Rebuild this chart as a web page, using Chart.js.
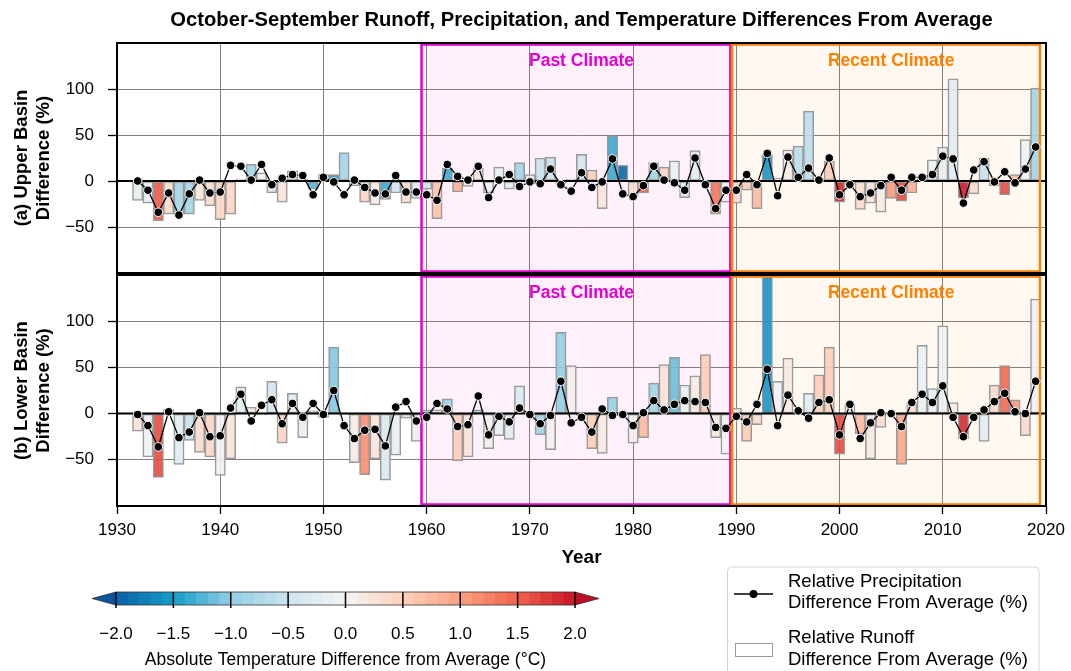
<!DOCTYPE html>
<html>
<head>
<meta charset="utf-8">
<script src="https://cdn.jsdelivr.net/npm/chart.js@4.4.1/dist/chart.umd.min.js"></script>
<style>
  html, body { margin: 0; padding: 0; background: #fff; }
  #wrap { position: relative; width: 1071px; height: 671px; overflow: hidden; }
  canvas { position: absolute; left: 0; }
</style>
</head>
<body>
<div id="wrap">
  <canvas id="upper" width="1071" height="276" style="top:0;width:1071px;height:276px"></canvas>
  <canvas id="lower" width="1071" height="302" style="top:268px;width:1071px;height:302px"></canvas>
  <canvas id="cbar" width="1071" height="111" style="top:560px;width:1071px;height:111px"></canvas>
</div>
<script>
// water years
const years = [
  1932, 1933, 1934, 1935, 1936, 1937, 1938, 1939, 1940, 1941,
  1942, 1943, 1944, 1945, 1946, 1947, 1948, 1949, 1950, 1951,
  1952, 1953, 1954, 1955, 1956, 1957, 1958, 1959, 1960, 1961,
  1962, 1963, 1964, 1965, 1966, 1967, 1968, 1969, 1970, 1971,
  1972, 1973, 1974, 1975, 1976, 1977, 1978, 1979, 1980, 1981,
  1982, 1983, 1984, 1985, 1986, 1987, 1988, 1989, 1990, 1991,
  1992, 1993, 1994, 1995, 1996, 1997, 1998, 1999, 2000, 2001,
  2002, 2003, 2004, 2005, 2006, 2007, 2008, 2009, 2010, 2011,
  2012, 2013, 2014, 2015, 2016, 2017, 2018, 2019
];

// (a) Upper Basin
const upperRunoff = [
  -21, -24, -43, -36, -36, -36, -21, -27, -42, -36,
  2, 18, 9, -13, -23, 11, 2, -9, 7, 7,
  31, -5, -23, -26, -20, -13, -24, -19, -9, -41,
  14, -12, -6, 14, -13, 15, -9, 20, 7, 25,
  26, -3, 2, 29, 12, -30, 49, 17, -16, -13,
  20, 15, 22, -18, 33, -2, -36, -23, -24, -10,
  -30, 29, 3, 34, 38, 76, 3, 22, -23, -3,
  -31, -24, -34, -19, -22, -13, 5, 23, 37, 111,
  -18, -14, 25, -5, -15, 7, 45, 101
];
const upperPrecip = [
  0, -10, -34, -13, -37, -14, 1, -13, -12, 17,
  16, 1, 18, -4, 3, 7, 6, -15, 4, -1,
  -15, 1, -7, -13, -14, 6, -12, -12, -15, -21,
  18, 5, 1, 16, -18, 1, 7, -6, -1, -3,
  13, -4, -11, 9, -7, -1, 24, -14, -17, -5,
  16, 1, -2, -10, 25, -4, -30, -10, -10, 7,
  -4, 30, -16, 26, 4, 14, 1, 25, -15, -4,
  -17, -13, -5, 4, -10, 4, 4, 7, 27, 24,
  -24, 12, 21, -1, 10, -2, 13, 37
];
const upperTemp = [
  -0.15, -0.2, 1.5, 0.35, -0.9, -0.9, 0.2, 0.3, 0.4, 0.4,
  0.05, -0.9, -0.05, -0.5, 0.25, -0.6, 0.05, -1.3, -0.6, -1.5,
  -0.9, -0.2, 0.4, 0.1, -1.4, -0.5, 0.3, -0.3, -0.5, 0.6,
  -1.4, 0.8, 0.2, 0.2, -0.1, -0.2, -0.3, -0.9, -0.05, -0.6,
  -0.6, 0.05, 0.1, -0.5, 0.5, 0.2, -1.4, -1.95, 0.3, 1.5,
  -0.9, 0.4, -0.2, -0.35, -0.3, 0.05, 1.3, -0.1, 0.3, 0.5,
  0.7, -1.6, -0.05, 0.1, -0.65, -0.65, 0.05, 0.5, 1.8, 0.2,
  0.3, 0.2, 0.15, 1.0, 1.6, 0.8, -0.05, -0.1, -0.2, -0.25,
  1.9, 0.3, -0.6, 0.4, 1.6, 0.7, -0.05, -0.85
];

// (b) Lower Basin
const lowerRunoff = [
  -19, -47, -69, 5, -55, -29, -42, -47, -67, -49,
  29, 7, -1, 35, -32, 22, -26, 3, -4, 72,
  -1, -53, -66, -49, -72, -45, -5, -30, 4, 4,
  16, -51, -47, 4, -38, -24, -28, 30, 0, -23,
  -39, 88, 52, -2, -38, -43, 18, 0, -32, -26,
  33, 53, 61, 31, 41, 64, -26, -44, 6, -30,
  -12, 160, 35, 60, 2, 22, 42, 72, -44, 10,
  -22, -49, -15, 0, -55, 12, 74, 27, 95, 12,
  -27, 0, -30, 31, 52, 15, -24, 124
];
const lowerPrecip = [
  -1, -13, -36, 2, -26, -20, 1, -25, -24, 6,
  21, -8, 9, 15, -11, 11, -4, 11, -1, 25,
  -13, -27, -18, -17, -35, 7, 13, -8, -4, 11,
  5, -14, -12, 19, -23, -3, -9, 6, -1, -11,
  -2, 35, -10, -4, -20, 5, -2, -1, -13, 1,
  14, 4, 10, 14, 13, 12, -15, -16, -3, -9,
  10, 48, -13, 20, 3, -5, 12, 15, -23, 10,
  -27, -10, 1, 0, -14, 12, 21, 12, 30, -4,
  -25, -4, 4, 13, 22, 2, 0, 35
];
const lowerTemp = [
  0.2, -0.05, 1.6, 0.2, -0.3, -0.6, 0.3, 0.45, -0.1, 0.2,
  -0.3, 0.1, -0.05, -0.5, 0.4, -0.3, -0.2, -0.05, -0.1, -1.1,
  0.05, 0.15, 1.1, 0.25, -0.4, -0.2, -0.4, -0.2, -0.9, 0.1,
  -0.9, 0.5, 0.2, -0.9, 0.05, -0.2, -0.25, -0.4, 0.05, -0.9,
  0.05, -1.0, 0.05, 0.05, 0.5, 0.1, -1.0, 0.05, 0.05, 0.7,
  -0.9, 0.2, -1.2, -0.2, 0.1, 0.5, 0.15, -0.05, 0.2, 0.5,
  0.3, -1.55, -0.05, 0.15, 0.05, -0.3, 0.5, 0.5, 1.6, -0.05,
  0.7, 0.15, 0.3, 0.05, 0.9, 0.35, -0.2, -0.15, -0.1, 0.1,
  1.8, 0.05, -0.3, 0.35, 1.4, 1.0, 0.3, -0.1
];

// tick labels
const xTicks = [1930, 1940, 1950, 1960, 1970, 1980, 1990, 2000, 2010, 2020];
const yGrid = [-100, -50, 0, 50, 100, 150];
const yLabels = [-50, 0, 50, 100];
const cbarTicks = [-2, -1.5, -1, -0.5, 0, 0.5, 1, 1.5, 2];

const FONT = '"Liberation Sans", Arial, sans-serif';
Chart.defaults.font.family = FONT;
Chart.defaults.color = '#000';

// colour scale for temperature difference (discrete 0.1 steps)
const cmapStops = [
  [-2.0, [8, 98, 168]],
  [-1.5, [22, 156, 200]],
  [-1.0, [143, 206, 228]],
  [-0.5, [206, 228, 238]],
  [0.0, [244, 244, 244]],
  [0.5, [253, 210, 188]],
  [1.0, [252, 160, 130]],
  [1.5, [241, 98, 76]],
  [2.0, [200, 20, 40]]
];
const underColor = 'rgb(6,86,158)';
const overColor = 'rgb(186,14,38)';

function rgbAt(v) {
  for (let i = 0; i < cmapStops.length - 1; i++) {
    const [v0, c0] = cmapStops[i];
    const [v1, c1] = cmapStops[i + 1];
    if (v <= v1) {
      const t = (v - v0) / (v1 - v0);
      return c0.map((c, k) => Math.round(c + (c1[k] - c) * t));
    }
  }
  return cmapStops[cmapStops.length - 1][1];
}
function tempColor(t, alpha) {
  const bin = Math.max(-20, Math.min(19, Math.floor(t * 10 + 1e-6)));
  const c = rgbAt((bin + 0.5) / 10);
  return `rgba(${c[0]},${c[1]},${c[2]},${alpha})`;
}

const fmt = v => (v < 0 ? '\u2212' + Math.abs(v) : String(v));

// no label overflow padding, the frame sizes are fixed
function noPad(s) {
  s.paddingTop = 0; s.paddingBottom = 0; s.paddingLeft = 0; s.paddingRight = 0;
}

const periods = [
  { name: 'Past Climate', start: 1959.5, end: 1989.42, labelX: 1975, edge: '#e400d0', fill: 'rgba(228,0,208,0.055)' },
  { name: 'Recent Climate', start: 1989.58, end: 2019.42, labelX: 2005, edge: '#ff8000', fill: 'rgba(255,128,0,0.055)' }
];

// shading, frames, zero line and labels for both panels
const panelDecor = {
  id: 'panelDecor',
  beforeDatasetsDraw(chart) {
    const { ctx, chartArea: a, scales: { x } } = chart;
    ctx.save();
    periods.forEach(p => {
      const x1 = x.getPixelForValue(p.start), x2 = x.getPixelForValue(p.end);
      ctx.fillStyle = p.fill;
      ctx.fillRect(x1, a.top, x2 - x1, a.bottom - a.top);
    });
    ctx.restore();
  },
  afterDatasetDraw(chart, args) {
    if (args.meta.type !== 'bar') return;
    const { ctx, chartArea: a, scales: { x, y } } = chart;
    ctx.save();
    // zero line
    const y0 = y.getPixelForValue(0);
    ctx.strokeStyle = '#000';
    ctx.lineWidth = 2;
    ctx.beginPath();
    ctx.moveTo(a.left, y0);
    ctx.lineTo(a.right, y0);
    ctx.stroke();
    // period boxes
    ctx.lineWidth = 2.5;
    periods.forEach(p => {
      const x1 = x.getPixelForValue(p.start), x2 = x.getPixelForValue(p.end);
      ctx.strokeStyle = p.edge;
      ctx.strokeRect(x1, a.top + 1.5, x2 - x1, a.bottom - a.top - 3);
    });
    ctx.restore();
  },
  afterDraw(chart, args, opts) {
    const { ctx, chartArea: a, scales: { x, y } } = chart;
    ctx.save();
    ctx.strokeStyle = '#000';
    ctx.lineWidth = 2;
    ctx.strokeRect(a.left, a.top, a.right - a.left, a.bottom - a.top);
    ctx.font = 'bold 17.5px ' + FONT;
    ctx.textAlign = 'center';
    ctx.textBaseline = 'middle';
    periods.forEach(p => {
      ctx.fillStyle = p.edge;
      ctx.fillText(p.name, x.getPixelForValue(p.labelX), y.getPixelForValue(130));
    });
    if (opts.title) {
      ctx.fillStyle = '#000';
      ctx.font = 'bold 20.2px ' + FONT;
      ctx.fillText(opts.title, (a.left + a.right) / 2, 20);
    }
    ctx.restore();
  }
};

function makePanel(id, runoff, precip, temp, cfg) {
  return new Chart(document.getElementById(id), {
    type: 'bar',
    data: {
      datasets: [
        {
          type: 'bar',
          data: years.map((yr, i) => ({ x: yr, y: runoff[i] })),
          backgroundColor: temp.map(t => tempColor(t, 0.9)),
          borderColor: '#9a9a9a',
          borderWidth: 1.5,
          borderSkipped: false,
          barPercentage: 1,
          categoryPercentage: 1,
          order: 2
        },
        {
          type: 'line',
          data: years.map((yr, i) => ({ x: yr, y: precip[i] })),
          borderColor: '#000',
          borderWidth: 1.3,
          pointRadius: 4.3,
          pointBackgroundColor: '#000',
          pointBorderColor: '#fff',
          pointBorderWidth: 1,
          tension: 0,
          order: 1
        }
      ]
    },
    options: {
      responsive: false,
      animation: false,
      devicePixelRatio: 1,
      layout: { padding: cfg.padding, autoPadding: false },
      plugins: {
        legend: { display: false },
        tooltip: { enabled: false },
        panelDecor: { title: cfg.title }
      },
      scales: {
        x: {
          type: 'linear',
          min: 1930,
          max: 2020,
          offset: false,
          afterBuildTicks: s => { s.ticks = xTicks.map(v => ({ value: v })); },
          afterFit: s => { s.height = cfg.xHeight; noPad(s); },
          grid: { offset: false, color: '#808080', lineWidth: 1, drawTicks: cfg.showX, tickLength: 8, tickColor: '#000', tickWidth: 1.3 },
          border: { display: false },
          ticks: { display: cfg.showX, color: '#000', font: { size: 17 }, padding: 6, maxRotation: 0, autoSkip: false, callback: v => String(v) },
          title: { display: cfg.showX, text: 'Year', color: '#000', font: { size: 19, weight: 'bold' }, padding: { top: 0, bottom: 1 } }
        },
        y: {
          min: -100,
          max: 150,
          afterBuildTicks: s => { s.ticks = yGrid.map(v => ({ value: v })); },
          afterFit: s => { s.width = 117; noPad(s); },
          grid: {
            color: '#808080',
            lineWidth: 1,
            tickLength: 9,
            tickWidth: 1.3,
            tickColor: c => (c.tick && yLabels.includes(c.tick.value)) ? '#000' : 'rgba(0,0,0,0)'
          },
          border: { display: false },
          ticks: { color: '#000', font: { size: 17 }, padding: 14, callback: v => (yLabels.includes(v) ? fmt(v) : '') },
          title: { display: true, text: cfg.yTitle, color: '#000', font: { size: 18.5, weight: 'bold' }, padding: { top: 10.5, bottom: 0 } }
        }
      }
    },
    plugins: [panelDecor]
  });
}

makePanel('upper', upperRunoff, upperPrecip, upperTemp, {
  padding: { top: 43, right: 25, bottom: 3, left: 0 },
  xHeight: 0,
  showX: false,
  yTitle: ['(a) Upper Basin', 'Difference (%)'],
  title: 'October-September Runoff, Precipitation, and Temperature Differences From Average'
});

makePanel('lower', lowerRunoff, lowerPrecip, lowerTemp, {
  padding: { top: 7, right: 25, bottom: 0, left: 0 },
  xHeight: 64,
  showX: true,
  yTitle: ['(b) Lower Basin', 'Difference (%)'],
  title: null
});

// colour bar + legend
const cbarDecor = {
  id: 'cbarDecor',
  afterDraw(chart) {
    const { ctx, chartArea: a, scales: { x } } = chart;
    const mid = (a.top + a.bottom) / 2;
    const arrow = 24;
    ctx.save();
    for (let b = -20; b < 20; b++) {
      const x1 = x.getPixelForValue(b / 10), x2 = x.getPixelForValue((b + 1) / 10);
      ctx.fillStyle = tempColor((b + 0.5) / 10, 1);
      ctx.fillRect(x1, a.top, x2 - x1 + 0.6, a.bottom - a.top);
    }
    ctx.fillStyle = underColor;
    ctx.beginPath();
    ctx.moveTo(a.left, a.top); ctx.lineTo(a.left - arrow, mid); ctx.lineTo(a.left, a.bottom);
    ctx.closePath(); ctx.fill();
    ctx.fillStyle = overColor;
    ctx.beginPath();
    ctx.moveTo(a.right, a.top); ctx.lineTo(a.right + arrow, mid); ctx.lineTo(a.right, a.bottom);
    ctx.closePath(); ctx.fill();
    ctx.strokeStyle = '#333';
    ctx.lineWidth = 0.8;
    ctx.beginPath();
    ctx.moveTo(a.left, a.top); ctx.lineTo(a.right, a.top); ctx.lineTo(a.right + arrow, mid);
    ctx.lineTo(a.right, a.bottom); ctx.lineTo(a.left, a.bottom); ctx.lineTo(a.left - arrow, mid);
    ctx.closePath(); ctx.stroke();
    ctx.strokeStyle = '#000';
    ctx.lineWidth = 1.5;
    cbarTicks.forEach(v => {
      const px = x.getPixelForValue(v);
      ctx.beginPath(); ctx.moveTo(px, a.top); ctx.lineTo(px, a.bottom + 3); ctx.stroke();
    });

    // legend box
    ctx.strokeStyle = '#d6d6d6';
    ctx.lineWidth = 1;
    ctx.beginPath();
    if (ctx.roundRect) ctx.roundRect(727.5, 7, 311.5, 130, 4); else ctx.rect(727.5, 7, 311.5, 130);
    ctx.stroke();
    ctx.strokeStyle = '#000';
    ctx.lineWidth = 1.5;
    ctx.beginPath(); ctx.moveTo(734, 34); ctx.lineTo(773, 34); ctx.stroke();
    ctx.fillStyle = '#000';
    ctx.beginPath(); ctx.arc(753.5, 34, 4, 0, Math.PI * 2); ctx.fill();
    ctx.fillStyle = '#fff';
    ctx.fillRect(735, 83, 38, 14);
    ctx.strokeStyle = '#999';
    ctx.lineWidth = 1;
    ctx.strokeRect(735.5, 83.5, 37, 13);
    ctx.fillStyle = '#000';
    ctx.font = '18.5px ' + FONT;
    ctx.textAlign = 'left';
    ctx.textBaseline = 'middle';
    ctx.fillText('Relative Precipitation', 788, 22);
    ctx.fillText('Difference From Average (%)', 788, 43);
    ctx.fillText('Relative Runoff', 788, 78);
    ctx.fillText('Difference From Average (%)', 788, 100);
    ctx.restore();
  }
};

new Chart(document.getElementById('cbar'), {
  type: 'scatter',
  data: { datasets: [] },
  options: {
    responsive: false,
    animation: false,
    devicePixelRatio: 1,
    layout: { padding: { top: 32, left: 116, right: 496, bottom: 0 }, autoPadding: false },
    plugins: { legend: { display: false }, tooltip: { enabled: false } },
    scales: {
      x: {
        type: 'linear',
        min: -2,
        max: 2,
        afterBuildTicks: s => { s.ticks = cbarTicks.map(v => ({ value: v })); },
        afterFit: s => { s.height = 66; noPad(s); },
        grid: { display: false },
        border: { display: false },
        ticks: { color: '#000', font: { size: 17 }, padding: 11, maxRotation: 0, autoSkip: false, callback: v => (v < 0 ? '\u2212' + Math.abs(v).toFixed(1) : v.toFixed(1)) },
        title: { display: true, text: 'Absolute Temperature Difference from Average (°C)', color: '#000', font: { size: 17.5 }, padding: { top: 0, bottom: 0 } }
      },
      y: { display: false, min: 0, max: 1 }
    }
  },
  plugins: [cbarDecor]
});
</script>
</body>
</html>
